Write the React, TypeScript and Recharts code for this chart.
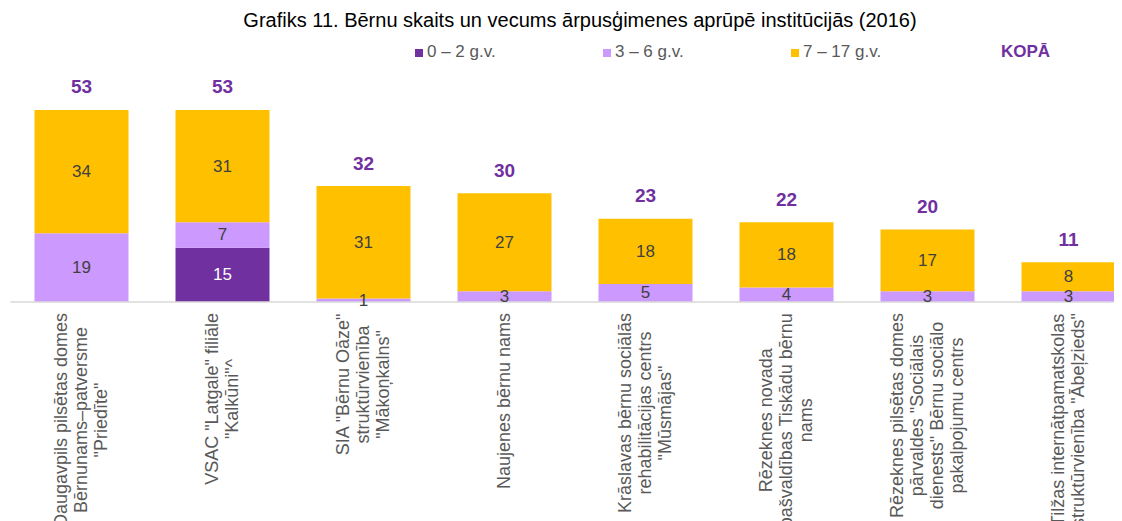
import React from "react";
import { BarChart, Bar, XAxis, YAxis, LabelList } from "recharts";

const categories: string[] = [
  'Daugavpils pilsētas domes\nBērnunams–patversme\n"Priedīte"',
  'VSAC "Latgale" filiāle\n"Kalkūni"^',
  'SIA "Bērnu Oāze"\nstruktūrvienība\n"Mākoņkalns"',
  "Naujenes bērnu nams",
  'Krāslavas bērnu sociālās\nrehabilitācijas centrs\n"Mūsmājas"',
  "Rēzeknes novada\npašvaldības Tiskādu bērnu\nnams",
  'Rēzeknes pilsētas domes\npārvaldes "Sociālais\ndienests" Bērnu sociālo\npakalpojumu centrs',
  'Tilžas internātpamatskolas\nstruktūrvienība "Ābeļzieds"',
];
const age0to2: number[] = [0, 15, 0, 0, 0, 0, 0, 0];
const age3to6: number[] = [19, 7, 1, 3, 5, 4, 3, 3];
const age7to17: number[] = [34, 31, 31, 27, 18, 18, 17, 8];
const totals: number[] = [53, 53, 32, 30, 23, 22, 20, 11];
const seriesNames: string[] = ["0 – 2 g.v.", "3 – 6 g.v.", "7 – 17 g.v."];
const totalName = "KOPĀ";

const data = categories.map((name, i) => ({
  name,
  a: age0to2[i],
  b: age3to6[i],
  c: age7to17[i],
  total: totals[i],
}));

const FONT = '"Liberation Sans", Arial, sans-serif';
const C_DARK = "#7030A0";
const C_LIGHT = "#CC99FF";
const C_ORANGE = "#FFC000";

let measureCtx: CanvasRenderingContext2D | null = null;
function measure(t: string, size: number): number {
  if (!measureCtx) {
    const c = document.createElement("canvas");
    measureCtx = c.getContext("2d");
  }
  if (!measureCtx) return t.length * size * 0.5;
  measureCtx.font = `${size}px "Liberation Sans", Arial, sans-serif`;
  return measureCtx.measureText(t).width;
}

const TICK_SIZE = 18;
const TICK_LH = 20;

function CategoryTick(props: any) {
  const { x, y, payload } = props;
  const lines: string[] = String(payload.value).split("\n");
  const W = Math.max(...lines.map((l) => measure(l, TICK_SIZE)));
  const n = lines.length;
  return (
    <g transform={`translate(${x},${y + 11}) rotate(-90)`}>
      {lines.map((l, i) => (
        <text
          key={i}
          x={-W / 2}
          y={(i - (n - 1) / 2) * TICK_LH}
          textAnchor="middle"
          dominantBaseline="central"
          fontSize={TICK_SIZE}
          fontFamily={FONT}
          fill="#595959"
        >
          {l}
        </text>
      ))}
    </g>
  );
}

function segLabel(color: string) {
  return (props: any) => {
    const { x, y, width, height, value } = props;
    if (!value) return null;
    return (
      <text
        x={x + width / 2}
        y={y + height / 2}
        textAnchor="middle"
        dominantBaseline="central"
        fontSize={17}
        fontFamily={FONT}
        fill={color}
      >
        {value}
      </text>
    );
  };
}

function totalLabel(props: any) {
  const { x, y, width, index } = props;
  return (
    <text
      x={x + width / 2}
      y={y - 23}
      textAnchor="middle"
      dominantBaseline="central"
      fontSize={19}
      fontWeight="bold"
      fontFamily={FONT}
      fill={C_DARK}
    >
      {totals[index]}
    </text>
  );
}

const legendItems = [
  { name: seriesNames[0], color: C_DARK, left: 415 },
  { name: seriesNames[1], color: C_LIGHT, left: 603 },
  { name: seriesNames[2], color: C_ORANGE, left: 791 },
];

export default function App() {
  return (
    <div
      style={{
        position: "relative",
        marginLeft: -8,
        marginTop: -8,
        width: 1122,
        height: 521,
        overflow: "hidden",
        fontFamily: FONT,
        background: "#fff",
      }}
    >
      <div
        style={{
          position: "absolute",
          left: 0,
          top: 8,
          width: 1160,
          textAlign: "center",
          fontSize: 20,
          lineHeight: "24px",
          color: "#000",
        }}
      >
        Grafiks 11. Bērnu skaits un vecums ārpusģimenes aprūpē institūcijās (2016)
      </div>
      {legendItems.map((it) => (
        <div
          key={it.name}
          style={{
            position: "absolute",
            left: it.left,
            top: 41,
            height: 22,
            display: "flex",
            alignItems: "center",
            fontSize: 17,
            color: "#595959",
            whiteSpace: "nowrap",
          }}
        >
          <span
            style={{
              display: "inline-block",
              width: 8,
              height: 8,
              background: it.color,
              marginRight: 4,
              marginTop: 2,
            }}
          />
          {it.name}
        </div>
      ))}
      <div
        style={{
          position: "absolute",
          left: 1001,
          top: 41,
          height: 22,
          display: "flex",
          alignItems: "center",
          fontSize: 17,
          fontWeight: "bold",
          color: C_DARK,
        }}
      >
        {totalName}
      </div>
      <div style={{ position: "absolute", left: 0, top: 0 }}>
        <BarChart
          width={1140}
          height={521}
          data={data}
          margin={{ top: 84.6, right: 1.5, bottom: 0, left: 10.5 }}
          barSize={94}
        >
          <YAxis hide domain={[0, 60]} />
          <XAxis
            dataKey="name"
            interval={0}
            height={219}
            tickLine={false}
            tickSize={0}
            tickMargin={0}
            axisLine={{ stroke: "#D9D9D9", strokeWidth: 1.5 }}
            tick={<CategoryTick />}
          />
          <Bar dataKey="a" stackId="s" fill={C_DARK} isAnimationActive={false}>
            <LabelList dataKey="a" content={segLabel("#FFFFFF")} />
          </Bar>
          <Bar dataKey="b" stackId="s" fill={C_LIGHT} isAnimationActive={false}>
            <LabelList dataKey="b" content={segLabel("#404040")} />
          </Bar>
          <Bar dataKey="c" stackId="s" fill={C_ORANGE} isAnimationActive={false}>
            <LabelList dataKey="c" content={segLabel("#404040")} />
            <LabelList dataKey="total" content={totalLabel} />
          </Bar>
        </BarChart>
      </div>
    </div>
  );
}
